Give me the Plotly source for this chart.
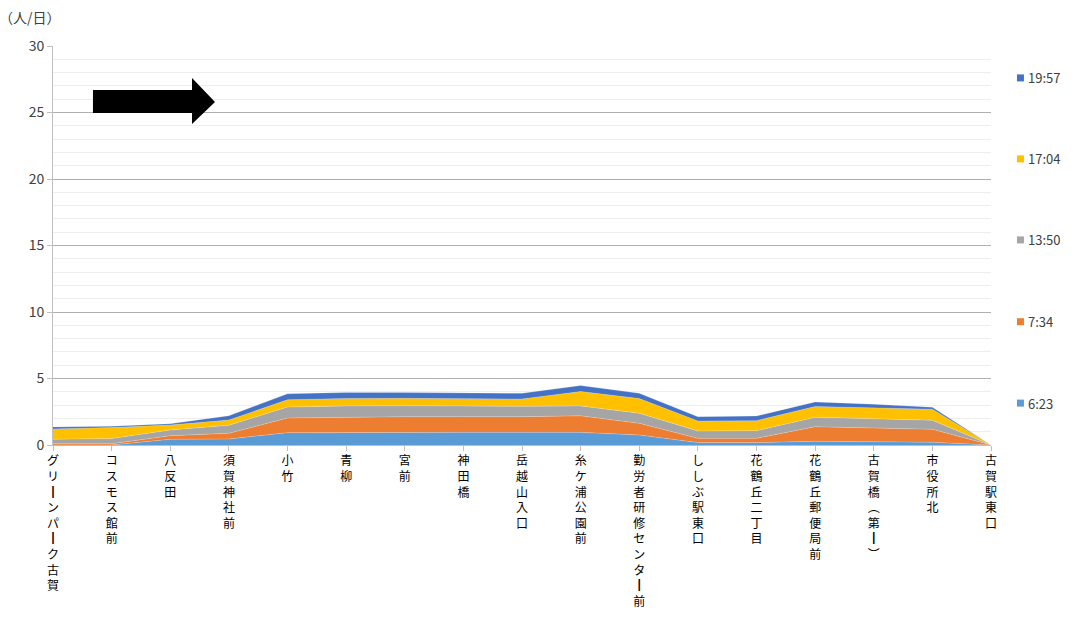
import plotly.graph_objects as go

stations = ["グリーンパーク古賀", "コスモス館前", "八反田", "須賀神社前", "小竹", "青柳", "宮前",
            "神田橋", "岳越山入口", "糸ケ浦公園前", "勤労者研修センター前", "ししぶ駅東口",
            "花鶴丘二丁目", "花鶴丘郵便局前", "古賀橋（第一）", "市役所北", "古賀駅東口"]

series_names = ["6:23", "7:34", "13:50", "17:04", "19:57"]
s_0623 = [0.00, 0.00, 0.43, 0.45, 0.93, 0.95, 0.95, 0.95, 0.95, 0.95, 0.75, 0.18, 0.18, 0.28, 0.25, 0.20, 0.0]
s_0734 = [0.10, 0.10, 0.27, 0.43, 1.10, 1.15, 1.18, 1.18, 1.18, 1.24, 0.88, 0.32, 0.32, 1.10, 1.05, 0.98, 0.0]
s_1350 = [0.33, 0.38, 0.43, 0.60, 0.83, 0.84, 0.83, 0.78, 0.78, 0.75, 0.76, 0.55, 0.58, 0.70, 0.66, 0.68, 0.0]
s_1704 = [0.78, 0.83, 0.37, 0.40, 0.54, 0.56, 0.55, 0.55, 0.55, 1.08, 1.10, 0.75, 0.75, 0.81, 0.85, 0.83, 0.0]
s_1957 = [0.15, 0.10, 0.10, 0.32, 0.45, 0.45, 0.43, 0.43, 0.43, 0.45, 0.40, 0.33, 0.35, 0.35, 0.26, 0.15, 0.0]
series_values = [s_0623, s_0734, s_1350, s_1704, s_1957]
colors = ["#5B9BD5", "#ED7D31", "#A5A5A5", "#FFC000", "#4472C4"]

y_ticks = [0, 5, 10, 15, 20, 25, 30]
unit_label = "（人/日）"

vertical_map = {"ー": "┃", "（": "︵", "）": "︶", "一": "┃"}


def vertical(s):
    return "<br>".join(vertical_map.get(c, c) for c in s)


FONT = "Noto Sans CJK JP, sans-serif"

fig = go.Figure()
for name, vals, col in zip(series_names, series_values, colors):
    fig.add_trace(go.Scatter(
        x=stations, y=vals, name=name, mode="lines", stackgroup="one",
        line=dict(width=0.6, color="rgba(255,255,255,0.35)"), fillcolor=col,
        showlegend=False, hoverinfo="skip"))

# manual legend (small squares + labels), top item = 19:57
legend_y = [0.105, 0.309, 0.514, 0.717, 0.920]  # paper y for 6:23 ... 19:57
for name, col, ly in zip(series_names, colors, legend_y):
    fig.add_shape(type="rect", xref="paper", yref="paper",
                  xsizemode="pixel", ysizemode="pixel",
                  xanchor=1.0314, yanchor=ly, x0=-3.5, x1=3.5, y0=-3.5, y1=3.5,
                  fillcolor=col, line=dict(width=0))
    fig.add_annotation(text=name, xref="paper", yref="paper", x=1.0374, y=ly,
                       xanchor="left", yanchor="middle", showarrow=False,
                       font=dict(size=13, color="#404040", family=FONT))

fig.add_shape(type="path", xref="paper", yref="paper",
              path="M0.0426,0.8321 L0.0426,0.8897 L0.1482,0.8897 L0.1482,0.9198 "
                   "L0.1727,0.8596 L0.1482,0.8045 L0.1482,0.8321 Z",
              fillcolor="black", line=dict(width=0))

fig.add_annotation(text=unit_label, xref="paper", yref="paper", x=-0.060, y=1.0727,
                   xanchor="left", yanchor="middle", showarrow=False,
                   font=dict(size=14, color="#404040", family=FONT))

fig.update_layout(
    width=1077, height=617,
    margin=dict(l=53, r=86, t=46, b=172),
    paper_bgcolor="white", plot_bgcolor="white",
    font=dict(family=FONT, color="#404040", size=13),
    showlegend=False,
    xaxis=dict(
        range=[0, 16], tickmode="array", tickvals=stations, automargin=False,
        ticktext=[vertical(s) for s in stations], tickangle=0,
        showgrid=False, showline=True, linecolor="#BFBFBF", linewidth=1,
        ticks="outside", ticklen=5, tickcolor="#BFBFBF",
        tickfont=dict(size=12, color="#000000", family=FONT), zeroline=False),
    yaxis=dict(
        range=[0, 30], tickvals=y_ticks, showgrid=True, gridcolor="#B0B0B0",
        gridwidth=1, showline=True, linecolor="#BFBFBF", ticks="outside",
        ticklen=5, tickcolor="#BFBFBF", zeroline=False, automargin=False,
        tickfont=dict(size=14, color="#404040", family=FONT),
        minor=dict(dtick=1, showgrid=True, gridcolor="#EEEEEE", gridwidth=1)),
)

fig.write_html("out.html", config={"displayModeBar": False},
               post_script="document.body.style.margin='0';")
